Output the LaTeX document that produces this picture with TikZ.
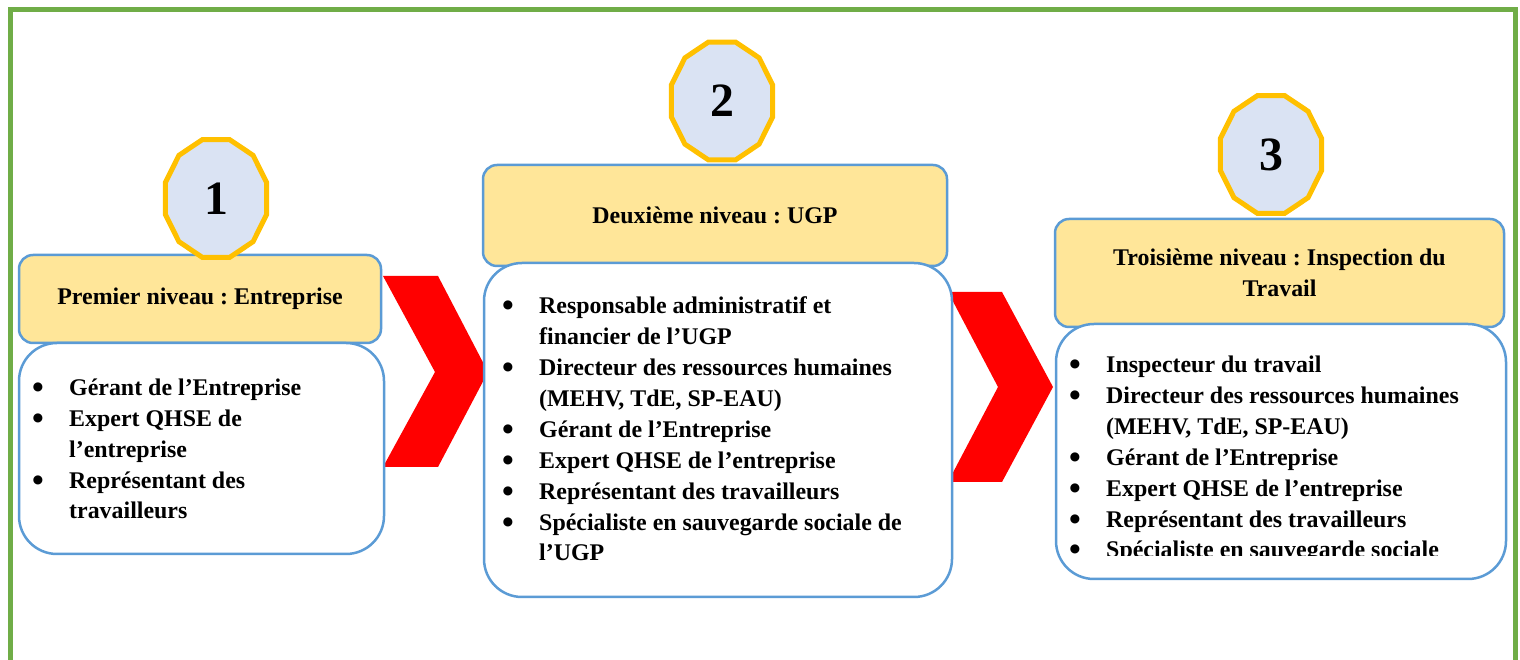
\documentclass[tikz,border=0pt]{standalone}
\usepackage{fontspec}
\usepackage{graphicx}
\setmainfont{Liberation Serif}
\frenchspacing
\definecolor{vertcadre}{HTML}{70AD47}
\definecolor{bleubord}{HTML}{5B9BD5}
\definecolor{jaunetete}{HTML}{FFE699}
\definecolor{bleuinsigne}{HTML}{DAE3F3}
\definecolor{orinsigne}{HTML}{FFC000}
\newcommand{\puce}{\makebox[37bp][l]{\raisebox{-3bp}{\scalebox{1.4}{\textbullet}}}}
\newcommand{\suite}{\hspace*{37bp}}
\tikzset{
  tete/.style={draw=bleubord,fill=jaunetete,line width=2.5bp,rounded corners=14bp,
    align=center,inner sep=0pt,font=\bfseries\fontsize{24}{31}\selectfont},
  corps/.style={draw=bleubord,fill=white,line width=2.5bp,rounded corners=38bp,inner sep=0pt},
  liste/.style={anchor=base west,align=left,inner sep=0pt,font=\bfseries\fontsize{24}{31}\selectfont},
  insigne/.style={draw=orinsigne,fill=bleuinsigne,line width=5bp,line join=miter},
  chiffre/.style={inner sep=0pt,font=\bfseries\fontsize{48}{48}\selectfont},
}
\begin{document}
\begin{tikzpicture}
\useasboundingbox (0bp,0bp) rectangle (1520bp,660bp);
%% cadre
\draw [vertcadre,line width=5bp] (10bp,0bp) -- (10bp,650bp) -- (1515bp,650bp) -- (1515bp,0bp);
%% chevrons
\fill [red] (383bp,384bp) -- (438bp,384bp) -- (488bp,288bp) -- (438bp,193bp) -- (383bp,193bp) -- (435bp,288bp) -- cycle;
\fill [red] (948bp,368bp) -- (1002bp,368bp) -- (1053bp,273bp) -- (1002bp,178bp) -- (948bp,178bp) -- (998bp,273bp) -- cycle;
%% niveaux
\node (tete_1) at (200bp,361bp) [tete,minimum width=362bp,minimum height=88bp] {Premier niveau : Entreprise};
  \node (tete_2) at (715bp,444.5bp) [tete,minimum width=464bp,minimum height=101bp] {Deuxième niveau : UGP};
  \node (tete_3) at (1279.5bp,387bp) [tete,minimum width=449bp,minimum height=108bp] {Troisième niveau : Inspection du\\Travail};
  \node (corps_1) at (201.5bp,211.5bp) [corps,minimum width=365bp,minimum height=211bp] {};
  \node (corps_2) at (718bp,230bp) [corps,minimum width=468bp,minimum height=334bp] {};
  \node (corps_3) at (1281bp,208.5bp) [corps,minimum width=450bp,minimum height=255bp] {};
%% listes (base = derniere ligne)
\node (liste_1) at (32bp,141bp) [liste] {\puce Gérant de l’Entreprise\\
  \puce Expert QHSE de\\ \suite l’entreprise\\
  \puce Représentant des\\ \suite travailleurs};
\node (liste_2) at (502bp,99bp) [liste] {\puce Responsable administratif et\\ \suite financier de l’UGP\\
  \puce Directeur des ressources humaines\\ \suite (MEHV, TdE, SP-EAU)\\
  \puce Gérant de l’Entreprise\\
  \puce Expert QHSE de l’entreprise\\
  \puce Représentant des travailleurs\\
  \puce Spécialiste en sauvegarde sociale de\\ \suite l’UGP};
\begin{scope}
  \clip (1055bp,104bp) rectangle (1507bp,330bp);
  \node (liste_3) at (1069bp,102bp) [liste] {\puce Inspecteur du travail\\
    \puce Directeur des ressources humaines\\ \suite (MEHV, TdE, SP-EAU)\\
    \puce Gérant de l’Entreprise\\
    \puce Expert QHSE de l’entreprise\\
    \puce Représentant des travailleurs\\
    \puce Spécialiste en sauvegarde sociale};
\end{scope}
%% insignes
\foreach \cx/\cy/\n in {216/461.5/1,722/559/2,1271/505.5/3} {
  \filldraw [insigne] plot [samples at={15,45,...,345}] ({\cx bp+52.5bp*cos(\x)},{\cy bp+61bp*sin(\x)}) -- cycle;
  \node (insigne_\n) at (\cx bp,\cy bp) [chiffre] {\n};
}
%
\end{tikzpicture}
\end{document}
